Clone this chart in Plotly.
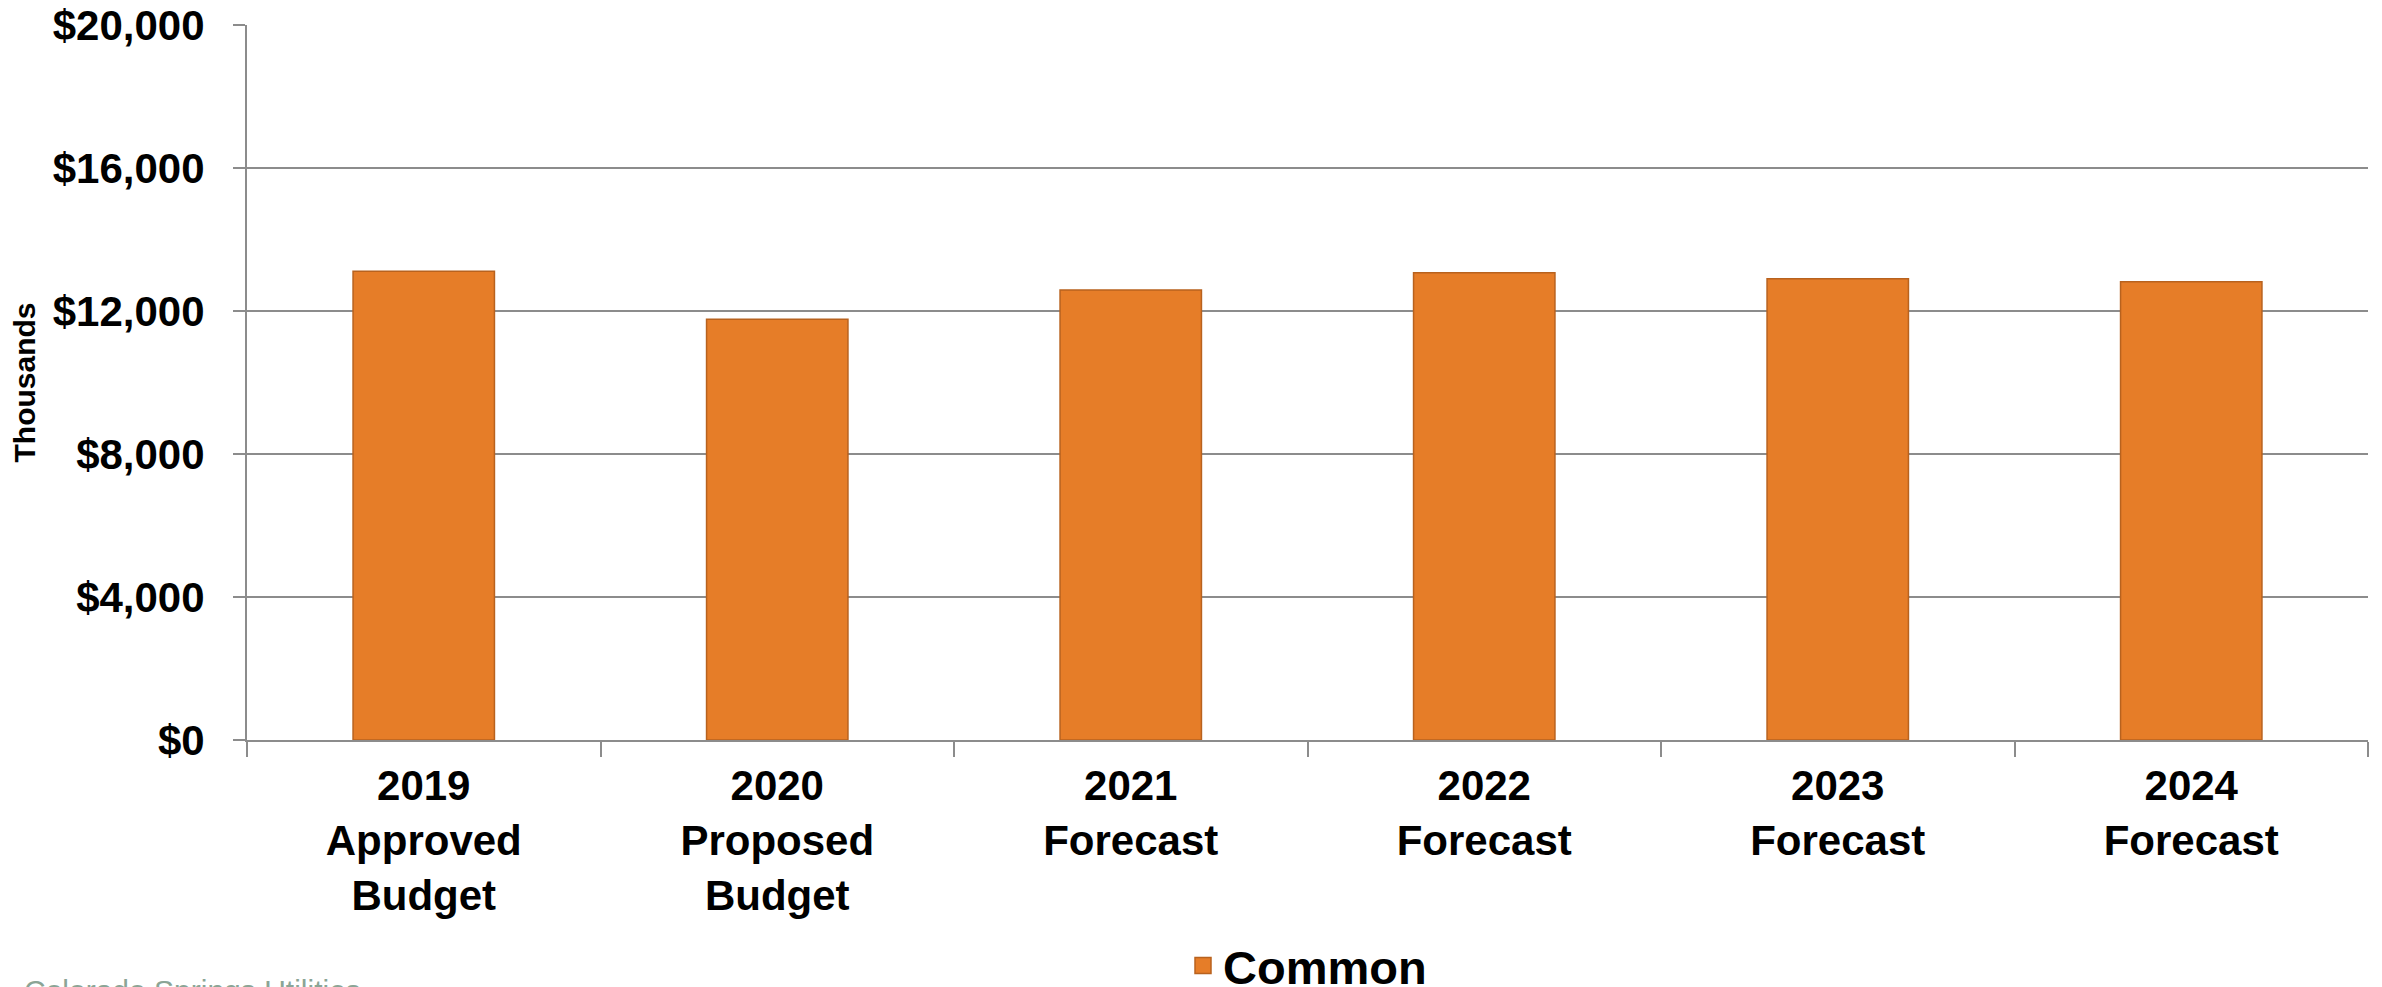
import plotly.graph_objects as go

categories = ["2019<br>Approved<br>Budget", "2020<br>Proposed<br>Budget", "2021<br>Forecast",
              "2022<br>Forecast", "2023<br>Forecast", "2024<br>Forecast"]
common = [13110, 11770, 12590, 13070, 12900, 12820]
y_ticks = [0, 4000, 8000, 12000, 16000, 20000]
y_tick_labels = ["$0", "$4,000", "$8,000", "$12,000", "$16,000", "$20,000"]

OFF = 8  # default page body margin
W, H = 2382 - OFF, 987 - OFF
# plot area in page pixels: x 247..2368, y 25..740
L, T = 247 - OFF, 25 - OFF
R = W - (2368 - OFF)
B = H - (740 - OFF)
plot_h = H - T - B

FONT = "Liberation Sans, Arial, sans-serif"
BAR_COLOR = "#E67D28"
BAR_EDGE = "#B8621E"


def paper_y(page_px):
    return (T + plot_h - (page_px - OFF)) / plot_h


fig = go.Figure()
fig.add_trace(go.Bar(
    x=categories, y=common, name="Common",
    width=0.40, showlegend=False,
    marker=dict(color=BAR_COLOR, line=dict(color=BAR_EDGE, width=1.5)),
))
# legend entry with a larger square swatch
fig.add_trace(go.Scatter(
    x=[None], y=[None], mode="markers", name="Common",
    marker=dict(symbol="square", size=25, color=BAR_COLOR, line=dict(color=BAR_EDGE, width=1.5)),
))

fig.update_layout(
    width=W, height=H,
    margin=dict(l=L, r=R, t=T, b=B, pad=0, autoexpand=False),
    paper_bgcolor="white", plot_bgcolor="white",
    font=dict(family=FONT, color="black"),
    showlegend=True,
    legend=dict(orientation="h", x=0.5, xanchor="center",
                y=paper_y(966), yanchor="middle",
                font=dict(size=47, family=FONT, weight="bold", color="black"),
                itemsizing="trace", itemwidth=30),
    bargap=0.6,
)

fig.update_xaxes(
    type="category",
    showgrid=False,
    showline=True, linecolor="#8C8C8C", linewidth=2,
    ticks="outside", tickson="boundaries", ticklen=15, tickcolor="#8C8C8C", tickwidth=2,
    tickfont=dict(size=42, family=FONT, weight="bold", color="black"),
    ticklabelstandoff=8,
    automargin=False,
)

fig.update_yaxes(
    range=[0, 20000],
    tickvals=y_ticks, ticktext=y_tick_labels,
    showgrid=True, gridcolor="#8C8C8C", gridwidth=2,
    showline=True, linecolor="#8C8C8C", linewidth=2,
    ticks="outside", ticklen=12, tickcolor="#8C8C8C", tickwidth=2,
    tickfont=dict(size=42, family=FONT, weight="bold", color="black"),
    ticklabelstandoff=20,
    ticklabeloverflow="allow",
    zeroline=False,
    automargin=False,
    title=dict(text="Thousands", font=dict(size=30, family=FONT, weight="bold", color="black"),
               standoff=10),
)

fig.add_annotation(
    text="Colorado Springs Utilities",
    xref="paper", yref="paper",
    x=(22 - OFF - L) / (W - L - R), xanchor="left",
    y=paper_y(972), yanchor="top",
    showarrow=False,
    font=dict(size=30, family=FONT, color="#8BA596"),
)

fig.write_html("out.html")
